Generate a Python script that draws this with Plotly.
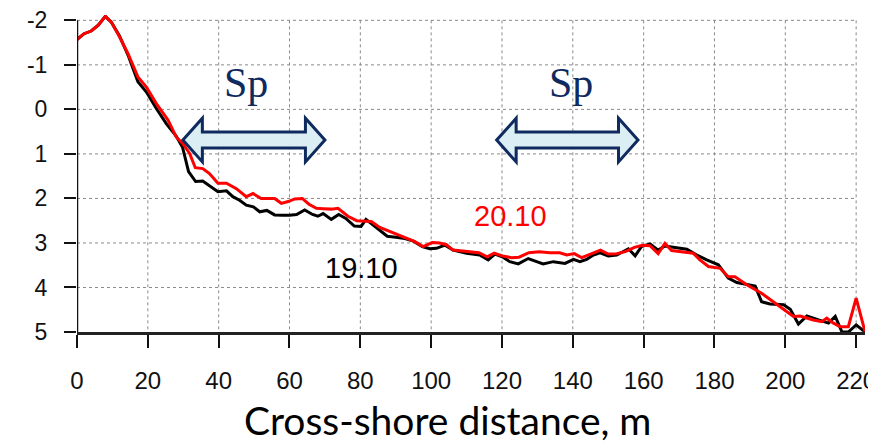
import plotly.graph_objects as go

# ---------------- data ----------------
x_2010 = [0, 2, 4, 6, 8, 9.7, 12, 14.4, 17.2, 19.6, 22.4, 25.7, 28, 29.9, 31.8, 33.4,
          35.5, 37.4, 39.8, 42.2, 45, 47.8, 49.7, 52, 54, 55.8, 57.7, 59.6, 61.5, 63.6,
          65.5, 67.6, 69.5, 71.8, 73.7, 76.5, 79, 83.1, 85.5, 89, 93, 95.4, 97.7, 100.3,
          102.4, 104.3, 106.2, 110, 113.5, 115.8, 117.8, 120.5, 122.7, 124.8, 127.6,
          130.5, 133.5, 136.3, 138.3, 140.4, 142.5, 145, 147.8, 150, 152.4, 155, 157.4,
          159.7, 161.8, 164.1, 166, 167.9, 172, 174, 175.9, 178.3, 181.6, 183.9, 185.8,
          189.1, 193.3, 198.5, 202.3, 204.2, 207.9, 210.3, 211.7, 213.6, 215.5, 217.8,
          220, 222.5]
z_2010 = [-1.57, -1.70, -1.76, -1.89, -2.09, -1.96, -1.63, -1.25, -0.73, -0.50, -0.13,
          0.24, 0.62, 0.77, 0.99, 1.31, 1.33, 1.44, 1.66, 1.66, 1.78, 1.96, 1.89, 2.0,
          2.0, 2.0, 2.11, 2.07, 2.01, 2.0, 2.13, 2.22, 2.23, 2.24, 2.22, 2.40, 2.50,
          2.52, 2.65, 2.76, 2.88, 2.97, 3.08, 2.99, 3.0, 3.04, 3.16, 3.19, 3.22, 3.31,
          3.23, 3.30, 3.33, 3.32, 3.22, 3.20, 3.22, 3.22, 3.27, 3.24, 3.33, 3.25, 3.16,
          3.25, 3.24, 3.19, 3.10, 3.05, 3.06, 3.24, 3.01, 3.17, 3.20, 3.23, 3.38, 3.53,
          3.57, 3.76, 3.76, 3.94, 4.13, 4.43, 4.65, 4.64, 4.73, 4.77, 4.69, 4.80, 4.88,
          4.88, 4.24, 4.99]

x_1910 = [0, 2, 4, 6, 8, 9.7, 12, 14.4, 17.2, 19.6, 22.4, 25.2, 28, 29.8, 31.5, 33.5,
          35.5, 37.7, 39.8, 42.2, 44, 45.9, 47.8, 49.8, 51.6, 53.6, 55.8, 58, 60, 62,
          64.3, 66.5, 68, 69.5, 71.8, 73.9, 75.9, 78.3, 80.2, 81.6, 83.4, 85.5, 87.6, 90,
          92.6, 95, 97.5, 99.6, 101.5, 103.9, 106.2, 110, 113.7, 116.1, 118, 120.3,
          122.2, 124.6, 127.4, 129.8, 131.6, 134.5, 137.8, 140.2, 142, 143.9, 145.8,
          147.7, 150, 152.4, 155.7, 157.6, 159.4, 161.8, 164.1, 166, 169.3, 172.2, 175,
          177.8, 181.1, 183.9, 186.3, 189.1, 191.5, 193.3, 195.7, 199.5, 201.4, 203.7,
          206.1, 209.8, 212.2, 214.1, 216, 217.8, 220, 222.5]
z_1910 = [-1.57, -1.70, -1.76, -1.89, -2.09, -1.96, -1.65, -1.22, -0.62, -0.39, -0.02,
          0.32, 0.60, 0.85, 1.40, 1.62, 1.61, 1.74, 1.85, 1.83, 1.96, 2.04, 2.15, 2.19,
          2.30, 2.27, 2.37, 2.38, 2.38, 2.36, 2.26, 2.36, 2.40, 2.34, 2.47, 2.36, 2.45,
          2.62, 2.63, 2.47, 2.58, 2.71, 2.85, 2.87, 2.90, 2.96, 3.08, 3.13, 3.12, 3.05,
          3.16, 3.23, 3.27, 3.38, 3.25, 3.32, 3.42, 3.47, 3.35, 3.42, 3.47, 3.42, 3.46,
          3.37, 3.42, 3.37, 3.27, 3.22, 3.29, 3.27, 3.13, 3.29, 3.08, 3.02, 3.16, 3.07,
          3.10, 3.14, 3.27, 3.38, 3.49, 3.79, 3.89, 3.94, 3.97, 4.32, 4.37, 4.39, 4.49,
          4.82, 4.64, 4.74, 4.80, 4.65, 5.0, 5.0, 4.84, 5.0]

x_ticks = [0, 20, 40, 60, 80, 100, 120, 140, 160, 180, 200, 220]
y_ticks = [-2, -1, 0, 1, 2, 3, 4, 5]
y_tick_text = ["-2", "-1", "0", "1", "2", "3", "4", "5"]

series_labels = ["19.10", "20.10"]
sp_label = "Sp"
x_title = "Cross-shore distance, m"

# spans marked by the double arrows (m) and label centres
sp_spans = [(29.9, 70.0), (118.5, 158.4)]
sp_label_x = [47.6, 139.5]

# ---------------- figure ----------------
NAVY = "#0f2a5f"
fig = go.Figure()

fig.add_trace(go.Scatter(x=x_1910, y=z_1910, mode="lines",
                         line=dict(color="#000000", width=3), name=series_labels[0],
                         showlegend=False))
fig.add_trace(go.Scatter(x=x_2010, y=z_2010, mode="lines",
                         line=dict(color="#ff0000", width=3), name=series_labels[1],
                         showlegend=False))

shapes = []
grid = dict(color="#8a8a8a", width=1, dash="dot")
for xv in x_ticks[1:]:
    shapes.append(dict(type="line", xref="x", yref="y", x0=xv, x1=xv,
                       y0=y_ticks[0], y1=y_ticks[-1], line=grid, layer="below"))
for yv in y_ticks[:-1]:
    shapes.append(dict(type="line", xref="x", yref="y", x0=x_ticks[0], x1=x_ticks[-1],
                       y0=yv, y1=yv, line=grid, layer="below"))
# left axis line only between -2 and 5
shapes.append(dict(type="line", xref="x", yref="y", x0=0, x1=0,
                   y0=y_ticks[0], y1=y_ticks[-1], line=dict(color="#111111", width=2.5)))

# double-headed block arrows
yc, hh, sh, hl = 0.69, 0.49, 0.18, 5.5
for (a, b) in sp_spans:
    pts = [(a, yc), (a + hl, yc - hh), (a + hl, yc - sh), (b - hl, yc - sh),
           (b - hl, yc - hh), (b, yc), (b - hl, yc + hh), (b - hl, yc + sh),
           (a + hl, yc + sh), (a + hl, yc + hh)]
    path = "M " + " L ".join(f"{px},{py}" for px, py in pts) + " Z"
    shapes.append(dict(type="path", xref="x", yref="y", path=path,
                       fillcolor="#dbeef4", line=dict(color=NAVY, width=3)))

annotations = []
for sx in sp_label_x:
    annotations.append(dict(x=sx, y=-0.6, xref="x", yref="y", text=sp_label,
                            showarrow=False, font=dict(family="Liberation Serif", size=42,
                                                       color=NAVY)))
annotations.append(dict(x=122.4, y=2.39, xref="x", yref="y", text=series_labels[1],
                        showarrow=False, font=dict(family="Liberation Sans", size=29,
                                                   color="#ff0000")))
annotations.append(dict(x=80.4, y=3.57, xref="x", yref="y", text=series_labels[0],
                        showarrow=False, font=dict(family="Liberation Sans", size=29,
                                                   color="#000000")))
annotations.append(dict(x=(443 - 69) / 796, y=-0.278, xref="paper", yref="paper",
                        text=x_title, showarrow=False, yanchor="middle",
                        font=dict(family="Lato", size=39, color="#000000")))

fig.update_layout(
    width=876, height=434,
    margin=dict(l=69, r=19, t=7, b=110, autoexpand=False),
    paper_bgcolor="white", plot_bgcolor="white",
    shapes=shapes, annotations=annotations,
    xaxis=dict(range=[0, 222.5], tickvals=x_ticks, ticks="outside", ticklen=13,
               tickwidth=2, tickcolor="#111111", showline=True, linewidth=2.5,
               linecolor="#222222", showgrid=False, zeroline=False,
               tickfont=dict(family="Liberation Sans", size=24, color="#111111"),
               ticklabelstandoff=12, ticklabeloverflow="allow"),
    yaxis=dict(range=[5, -2.12], tickvals=y_ticks, ticktext=y_tick_text, ticks="outside",
               ticklen=12, tickwidth=2, tickcolor="#111111", showline=False,
               showgrid=False, zeroline=False,
               tickfont=dict(family="Liberation Sans", size=23, color="#111111"),
               ticklabelstandoff=12, ticklabeloverflow="allow"),
)

fig.write_html("out.html")
